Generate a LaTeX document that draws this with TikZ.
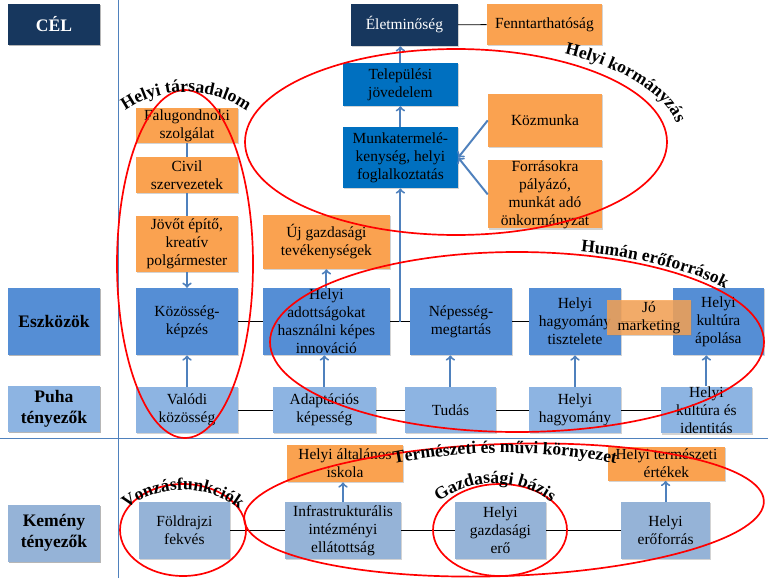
\documentclass[tikz,border=0pt]{standalone}
\usepackage{fontspec}
\setmainfont{Liberation Serif}
\usetikzlibrary{decorations.text, shadows}

\definecolor{navyc}{RGB}{23,55,94}
\definecolor{orangec}{RGB}{250,162,80}
\definecolor{midblue}{RGB}{85,142,213}
\definecolor{lightblue}{RGB}{141,180,226}
\definecolor{greyblue}{RGB}{149,179,215}
\definecolor{strongblue}{RGB}{0,112,192}
\definecolor{arrowblue}{RGB}{79,129,189}
\newcommand{\ringfont}{\fontsize{12.5}{14}\selectfont\bfseries}

\begin{document}
\begin{tikzpicture}[
  box/.style={rectangle, inner xsep=2pt, inner ysep=0pt, align=center,
    font=\fontsize{11}{12.8}\selectfont,
    drop shadow={shadow xshift=0.8pt, shadow yshift=-0.8pt, opacity=0.35}},
  goalbox/.style={box, fill=navyc, text=white},
  orangebox/.style={box, fill=orangec},
  toolbox/.style={box, fill=midblue, minimum height=1.675cm},
  softbox/.style={box, fill=lightblue, minimum height=1.15cm},
  hardbox/.style={box, fill=greyblue, minimum height=1.425cm},
  govbox/.style={box, fill=strongblue, minimum width=2.875cm},
  rowlabel/.style={box, minimum width=2.3cm, font=\fontsize{12.5}{15}\selectfont\bfseries},
  link/.style={draw=black, line width=0.6pt},
  bluelink/.style={draw=arrowblue, line width=1.4pt},
  arr/.style={bluelink, ->},
  ring/.style={draw=red, line width=1.2pt},
  ringlabel/.style={decorate, decoration={text along path, text align=center, text={#1}}}
]
\useasboundingbox (0,0) rectangle (19.2,14.45);
\draw[arrowblue, line width=0.6pt] (2.95,0) -- (2.95,14.45);
\draw[arrowblue, line width=0.6pt] (0,3.48) -- (19.2,3.48);

% row labels
\node[goalbox, rowlabel, minimum height=1.025cm] (cel) at (1.35,13.84) {CÉL};
\node[toolbox, rowlabel] (eszk) at (1.35,6.41) {Eszközök};
\node[softbox, rowlabel] (puha) at (1.35,4.22) {Puha\\tényezők};
\node[hardbox, rowlabel] (kemeny) at (1.35,1.125) {Kemény\\tényezők};

% goal and local government
\node[goalbox, minimum width=2.675cm, minimum height=1.05cm] (elet) at (10.11,13.825) {Életminőség};
\node[orangebox, minimum width=2.875cm, minimum height=1.025cm] (fennt) at (13.61,13.84) {Fenntarthatóság};
\node[govbox, minimum height=1.075cm] (telep) at (10.01,12.34) {Települési\\jövedelem};
\node[govbox, minimum height=1.525cm] (munka) at (10.01,10.51) {Munkatermelé-\\kenység, helyi\\foglalkoztatás};
\node[orangebox, minimum width=2.85cm, minimum height=1.325cm] (kozmunka) at (13.625,11.44) {Közmunka};
\node[orangebox, minimum width=2.85cm, minimum height=1.625cm] (forras) at (13.625,9.59) {Forrásokra\\pályázó,\\munkát adó\\önkormányzat};

\node[orangebox, minimum width=2.55cm, minimum height=0.875cm] (falu) at (4.675,11.31) {Falugondnoki\\szolgálat};
\node[orangebox, minimum width=2.55cm, minimum height=0.9cm] (civil) at (4.675,10.075) {Civil\\szervezetek};
\node[orangebox, minimum width=2.55cm, minimum height=1.4cm] (jovot) at (4.675,8.35) {Jövőt építő,\\kreatív\\polgármester};
\node[orangebox, minimum width=3.175cm, minimum height=1.35cm] (ujgazd) at (8.16,8.4) {Új gazdasági\\tevékenységek};

% tools
\node[toolbox, minimum width=2.55cm] (kozkep) at (4.675,6.41) {Közösség-\\képzés};
\node[toolbox, minimum width=3.175cm] (adott) at (8.16,6.41) {Helyi\\adottságokat\\használni képes\\innováció};
\node[toolbox, minimum width=2.55cm] (nepes) at (11.525,6.41) {Népesség-\\megtartás};
\node[toolbox, minimum width=2.3cm] (tisztel) at (14.375,6.41) {Helyi\\hagyomány\\tisztelete};
\node[toolbox, minimum width=2.275cm] (apol) at (17.96,6.41) {Helyi\\kultúra\\ápolása};

% soft factors
\node[softbox, minimum width=2.55cm] (valodi) at (4.675,4.2) {Valódi\\közösség};
\node[softbox, minimum width=2.575cm] (adapt) at (8.11,4.2) {Adaptációs\\képesség};
\node[softbox, minimum width=2.275cm] (tudas) at (11.26,4.2) {Tudás};
\node[softbox, minimum width=2.3cm] (hagy) at (14.375,4.2) {Helyi\\hagyomány};
\node[softbox, minimum width=2.275cm] (kultura) at (17.66,4.2) {Helyi\\kultúra és\\identitás};

% hard factors
\node[hardbox, minimum width=2.275cm] (foldr) at (4.61,1.19) {Földrajzi\\fekvés};
\node[hardbox, minimum width=2.9cm] (infra) at (8.575,1.19) {Infrastrukturális\\intézményi\\ellátottság};
\node[hardbox, minimum width=2.275cm] (gazd) at (12.51,1.19) {Helyi\\gazdasági\\erő};
\node[hardbox, minimum width=2.225cm] (eroforr) at (16.64,1.19) {Helyi\\erőforrás};
\node[orangebox, minimum width=2.9cm, minimum height=0.925cm] (iskola) at (8.625,2.86) {Helyi általános\\iskola};
\node[orangebox, minimum width=2.925cm, minimum height=0.85cm] (termert) at (16.66,2.86) {Helyi természeti\\értékek};

\draw[link] (elet) -- (fennt);
\draw[arr] (telep.north) -- (telep.north |- elet.south);
\draw[arr] (munka) -- (telep);
\draw[arr] (kozmunka.west) -- (munka.east);
\draw[arr] (forras.west) -- (munka.east);
\draw[bluelink] (falu) -- (civil);
\draw[bluelink] (civil) -- (jovot);
\draw[arr] (jovot) -- (kozkep);
\draw[arr] (adott) -- (ujgazd);

\draw[link] (kozkep) -- (adott);
\draw[link] (adott) -- (nepes);
\draw[link] (nepes) -- (tisztel);
\draw[link] (tisztel) -- (apol);
\coordinate (fork) at (munka.south |- adott.east);
\draw[arr] (fork) -- (munka.south);

\draw[link] (valodi) -- (adapt);
\draw[link] (adapt) -- (tudas);
\draw[link] (tudas) -- (hagy);
\draw[link] (hagy) -- (kultura);
\draw[arr] (valodi) -- (kozkep);
\draw[arr] (adapt.north) -- (adapt.north |- adott.south);
\draw[arr] (tudas.north) -- (tudas.north |- nepes.south);
\draw[arr] (hagy) -- (tisztel);
\draw[arr] (kultura.north) -- (kultura.north |- apol.south);

\draw[link] (foldr) -- (infra);
\draw[link] (infra) -- (gazd);
\draw[link] (gazd) -- (eroforr);
\draw[arr] (infra.north) -- (infra.north |- iskola.south);
\draw[arr] (eroforr.north) -- (eroforr.north |- termert.south);

\node[orangebox, fill opacity=0.8, text opacity=1, minimum width=2.1cm, minimum height=0.875cm] (marketing) at (16.225,6.51) {Jó\\marketing};

% red rings
\draw[ring] (4.625,7.85) ellipse [x radius=1.7, y radius=4.35];
\draw[ring] (11.4,10.9) ellipse [x radius=5.275, y radius=2.325];
\draw[ring] (12.925,5.9) ellipse [x radius=6.175, y radius=2.25];
\draw[ring, rotate around={2:(12.6,1.7)}] (12.6,1.7) ellipse [x radius=6.5, y radius=1.65];
\draw[ring] (12.5,1.2) ellipse [x radius=1.675, y radius=1.15];
\draw[ring] (4.575,1.2) ellipse [x radius=1.575, y radius=1.15];

\path[ringlabel={|\ringfont|Helyi társadalom}] ([shift={(136:2.65)}]4.65,9.5) arc [start angle=136, end angle=44, radius=2.65];
\path[ringlabel={|\ringfont|Helyi kormányzás}] ([shift={(66:5.6 and 2.5)}]11.4,10.925) arc [start angle=66, end angle=0, x radius=5.6, y radius=2.5];
\path[ringlabel={|\ringfont|Humán erőforrások}] ([shift={(80:6.375 and 2.325)}]12.925,5.9) arc [start angle=80, end angle=28, x radius=6.375, y radius=2.325];
\path[ringlabel={|\ringfont|Természeti és művi környezet}] ([shift={(104:14.7)}]12.625,-11.575) arc [start angle=104, end angle=76, radius=14.7];
\path[ringlabel={|\ringfont|Gazdasági bázis}] ([shift={(135:2.31)}]12.375,0.06) arc [start angle=135, end angle=45, radius=2.31];
\path[ringlabel={|\ringfont|Vonzásfunkciók}] ([shift={(135:2.375)}]4.575,-0.175) arc [start angle=135, end angle=45, radius=2.375];
\end{tikzpicture}
\end{document}
